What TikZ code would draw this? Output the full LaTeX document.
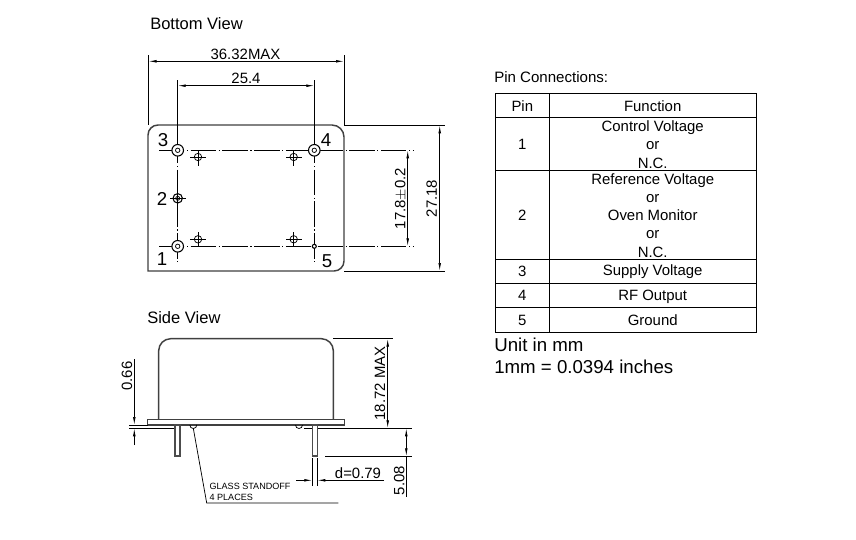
\documentclass[tikz,border=0pt]{standalone}
\usepackage{fontspec}
\setmainfont{Liberation Sans}
\usetikzlibrary{arrows.meta}

\begin{document}
\begin{tikzpicture}[x=0.75pt,y=-0.75pt,
  dimline/.style={black, line width=0.55pt},
  pinline/.style={black, line width=0.8pt},
  dimarrow/.style={black, line width=0.55pt, {Latex[length=6pt,width=2pt]}-{Latex[length=6pt,width=2pt]}},
  endarrow/.style={black, line width=0.55pt, -{Latex[length=6pt,width=2pt]}},
  centerline/.style={black, line width=0.6pt, dash pattern=on 19pt off 2pt on 0.8pt off 2pt},
  outline/.style={black!75, line width=1.1pt},
  legline/.style={black!70, line width=0.9pt},
  tableline/.style={black, line width=0.6pt},
  pinlabel/.style={font=\fontsize{14}{14}\selectfont, inner sep=0pt, text height=10pt, text depth=0pt},
  dimlabel/.style={font=\fontsize{11.2}{11.2}\selectfont, inner sep=0pt, text height=8pt, text depth=0pt},
  celltext/.style={font=\fontsize{11.2}{11.2}\selectfont, inner sep=0pt, text height=8pt, text depth=0pt},
  titletext/.style={font=\fontsize{12.4}{12.4}\selectfont, inner sep=0pt, text height=8.9pt, text depth=0pt, anchor=west},
  smalltext/.style={font=\fontsize{6.8}{6.8}\selectfont, inner sep=0pt, text height=4.9pt, text depth=0pt, anchor=west}]

\useasboundingbox (0,0) rectangle (856,539);
\fill[white] (0,0) rectangle (856,539);


\node[titletext] (bottomtitle) at (150,24) {Bottom View};
\node[titletext] (sidetitle) at (147,318) {Side View};


% bottom view body
\draw[outline] (148,271)--(148,135) arc (180:270:10)--(332,125) arc (270:360:12)--(344,261) arc (0:90:10)--cycle;


% center lines
\draw[centerline] (159,150.3)--(413,150.3);
\draw[centerline] (159,246.3)--(413,246.3);
\draw[centerline] (177.7,138)--(177.7,263);
\draw[centerline] (314.3,138)--(314.3,263);


% pins
\draw[pinline, fill=white] (177.7,150.3) circle [radius=5.8];
\draw[dimline, fill=white] (177.7,150.3) circle [radius=2.2];
\draw[pinline, fill=white] (314.3,150.3) circle [radius=5.8];
\draw[dimline, fill=white] (314.3,150.3) circle [radius=2.2];
\draw[pinline, fill=white] (177.7,246.3) circle [radius=5.8];
\draw[dimline, fill=white] (177.7,246.3) circle [radius=2.2];
\draw[pinline] (177.7,198.3) circle [radius=4.7];
\draw[dimline] (177.7,198.3) circle [radius=2];
\draw[dimline] (170,198.3)--++(16,0);
\draw[dimline] (177.7,188)--++(0,20);
\draw[pinline, fill=white] (314.3,246.3) circle [radius=2];


% standoffs
\draw[dimline] (198,157) circle [radius=3.7];
\draw[dimline] (190,157)--++(16,0);
\draw[dimline] (198,151)--++(0,15);
\draw[dimline] (293.7,157) circle [radius=3.7];
\draw[dimline] (286,157)--++(16,0);
\draw[dimline] (293.7,151)--++(0,15);
\draw[dimline] (198,239.3) circle [radius=3.7];
\draw[dimline] (190,239.3)--++(16,0);
\draw[dimline] (198,232)--++(0,14);
\draw[dimline] (293.7,239.3) circle [radius=3.7];
\draw[dimline] (286,239.3)--++(16,0);
\draw[dimline] (293.7,232)--++(0,14);


\node[pinlabel] (pinthree) at (163,139.5) {3};
\node[pinlabel] (pinfour) at (326,139.5) {4};
\node[pinlabel] (pintwo) at (162,199) {2};
\node[pinlabel] (pinone) at (162,259) {1};
\node[pinlabel] (pinfive) at (327,261) {5};


% top dimensions
\draw[dimline] (148.5,55)--(148.5,125);
\draw[dimline] (344,55)--(344,125);
\draw[dimarrow] (148.5,61.3)--(344,61.3);
\node[dimlabel] (widthlabel) at (245.5,54) {36.32MAX};

\draw[dimline] (177.7,80)--(177.7,138);
\draw[dimline] (314.3,80)--(314.3,138);
\draw[dimarrow] (177.7,85.7)--(314.3,85.7);
\node[dimlabel] (pitchlabel) at (246,78.5) {25.4};


% right dimensions
\draw[dimline] (344,125.3)--(445,125.3);
\draw[dimline] (344,271)--(445,271);
\draw[dimarrow] (439.7,125.3)--(439.7,271);
\node[dimlabel, rotate=90] (heightlabel) at (431.5,198.5) {27.18};

\draw[dimarrow] (407.7,150.3)--(407.7,246.3);
\node[dimlabel, rotate=90] (rowlabel) at (400,198.5) {17.8$\pm$0.2};


% side view
\draw[outline] (158.7,419.3)--(158.7,350.7) arc (180:270:12)--(321.3,338.7) arc (270:360:12)--(333.3,419.3);
\draw[outline, fill=white] (147.7,419.3) rectangle (344.3,425);


% side view dimensions
\draw[dimline] (129.3,425)--(147.7,425);
\draw[dimline] (129.3,428.3)--(175,428.3);
\draw[dimline] (304,428.3)--(411.7,428.3);
\draw[endarrow] (134.3,359.3)--(134.3,425);
\draw[endarrow] (134.3,445)--(134.3,428.3);
\node[dimlabel, rotate=90] (flangelabel) at (126.7,376) {0.66};

\draw[legline, fill=white] (175,425) rectangle (180,456);
\draw[legline, fill=white] (312.3,425) rectangle (317.3,456);
\draw[dimline] (189.8,425) arc (180:0:3.5);
\draw[dimline] (295.5,425) arc (180:0:3.5);

\draw[dimline] (333.3,338.7)--(393,338.7);
\draw[dimarrow] (387.7,338.7)--(387.7,428.3);
\node[dimlabel, rotate=90] (maxlabel) at (379.8,383.5) {18.72 MAX};

\draw[dimline] (325,456.3)--(411.7,456.3);
\draw[dimarrow] (406.3,428.3)--(406.3,456.3);
\draw[dimline] (406.3,456.3)--(406.3,497);
\node[dimlabel, rotate=90] (leglabel) at (399,480.7) {5.08};

\draw[dimline] (312.3,458)--(312.3,486);
\draw[dimline] (317.3,458)--(317.3,486);
\draw[endarrow] (296,480.3)--(312.3,480.3);
\draw[endarrow] (384,480.3)--(317.3,480.3);
\node[dimlabel] (dialabel) at (358,472.7) {d=0.79};

\draw[dimline] (193.3,428.3)--(206.7,503)--(338.3,503);
\node[smalltext] (glasslabel) at (209.3,486.7) {GLASS STANDOFF};
\node[smalltext] (placeslabel) at (209.3,497.7) {4 PLACES};


% table
\node[celltext, anchor=west, font=\fontsize{11.3}{11.3}\selectfont] (tabletitle) at (494,77) {Pin Connections:};

\draw[tableline] (495,93.3) rectangle (756.7,332.3);
\draw[tableline] (549.3,93.3)--(549.3,332.3);
\draw[tableline] (495,117.3)--(756.7,117.3);
\draw[tableline] (495,170.3)--(756.7,170.3);
\draw[tableline] (495,259.3)--(756.7,259.3);
\draw[tableline] (495,283.3)--(756.7,283.3);
\draw[tableline] (495,307.3)--(756.7,307.3);

\node[celltext] (headpin) at (522.3,105.7) {Pin};
\node[celltext] (headfunction) at (652.7,105.7) {Function};

\node[celltext] (rowone) at (522.3,144.5) {1};
\node[celltext] (control) at (652.7,126.3) {Control Voltage};
\node[celltext] (controlor) at (652.7,144) {or};
\node[celltext] (controlnc) at (652.7,163.3) {N.C.};

\node[celltext] (rowtwo) at (522.3,215.5) {2};
\node[celltext] (reference) at (652.7,179.3) {Reference Voltage};
\node[celltext] (referenceor) at (652.7,197) {or};
\node[celltext] (oven) at (652.7,215.3) {Oven Monitor};
\node[celltext] (ovenor) at (652.7,232.7) {or};
\node[celltext] (ovennc) at (652.7,251.7) {N.C.};

\node[celltext] (rowthree) at (522.3,271.5) {3};
\node[celltext] (supply) at (652.7,270.3) {Supply Voltage};

\node[celltext] (rowfour) at (522.3,295.5) {4};
\node[celltext] (output) at (652.7,294.7) {RF Output};

\node[celltext] (rowfive) at (522.3,320) {5};
\node[celltext] (ground) at (652.7,320.3) {Ground};


\node[pinlabel, anchor=west] (unitlabel) at (494,345) {Unit in mm};
\node[pinlabel, anchor=west] (inchlabel) at (494,366.7) {1mm = 0.0394 inches};

\end{tikzpicture}
\end{document}
